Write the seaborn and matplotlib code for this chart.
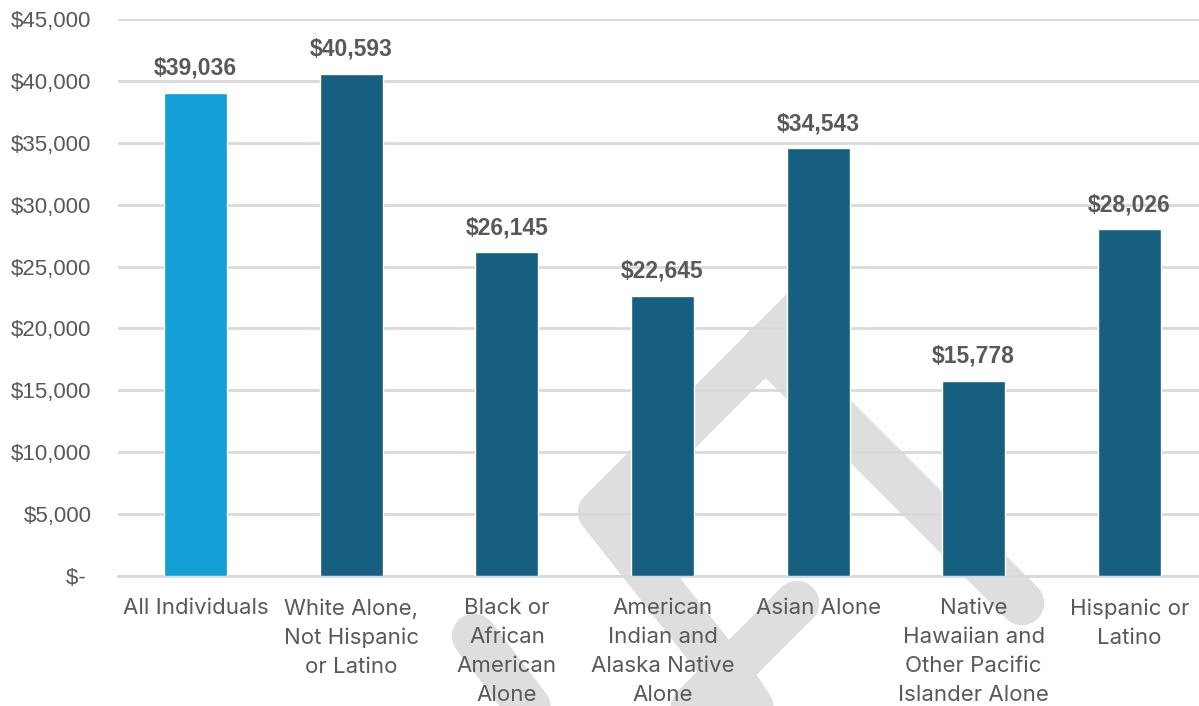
import matplotlib
matplotlib.use("Agg")
import matplotlib.pyplot as plt
from matplotlib.lines import Line2D
import seaborn as sns

# Median income by race / ethnicity
categories = [
    "All Individuals",
    "White Alone,\nNot Hispanic\nor Latino",
    "Black or\nAfrican\nAmerican\nAlone",
    "American\nIndian and\nAlaska Native\nAlone",
    "Asian Alone",
    "Native\nHawaiian and\nOther Pacific\nIslander Alone",
    "Hispanic or\nLatino",
]
incomes = [39036, 40593, 26145, 22645, 34543, 15778, 28026]
bar_colors = ["#119fd6", "#165f80", "#165f80", "#165f80", "#165f80", "#165f80", "#165f80"]
y_ticks = [0, 5000, 10000, 15000, 20000, 25000, 30000, 35000, 40000, 45000]

TEXT = "#595959"
GRID = "#d9d9d9"
W, H = 1199, 706

sns.set_theme(style="white")
plt.rcParams["font.family"] = ["Liberation Sans", "DejaVu Sans"]

fig = plt.figure(figsize=(W / 100, H / 100), dpi=100)
fig.patch.set_facecolor("white")
ax = fig.add_axes([118 / W, 1 - 576 / H, (1207 - 118) / W, (576 - 19) / H])
ax.patch.set_visible(False)


def fpx(x, y):
    return x / W, 1 - y / H


# Light grey logo mark sitting behind the plot
logo_paths = [
    [(812, 300), (600, 512), (740, 690), (770, 735)],
    [(765, 346), (1022, 603)],
    [(797, 603), (680, 720)],
    [(474, 636), (540, 722)],
]
for path in logo_paths:
    xs, ys = zip(*[fpx(x, y) for x, y in path])
    fig.add_artist(Line2D(xs, ys, transform=fig.transFigure, color="#dedede",
                          lw=32, solid_capstyle="round", solid_joinstyle="round",
                          zorder=-1))

df = {"category": categories, "income": incomes}
sns.barplot(x="category", y="income", hue="category", data=df,
            palette=bar_colors, width=0.405, saturation=1, legend=False,
            ax=ax, zorder=3)

ax.set_xlim(-0.5, 6.5)
ax.set_ylim(0, 45000)
ax.set_yticks(y_ticks)
ax.set_yticklabels(["$- " if v == 0 else f"${v:,}" for v in y_ticks])
ax.yaxis.grid(True, color=GRID, lw=2)
ax.set_axisbelow(True)
for side in ["top", "right", "left"]:
    ax.spines[side].set_visible(False)
ax.spines["bottom"].set_color(GRID)
ax.spines["bottom"].set_linewidth(2)
ax.set_xlabel("")
ax.set_ylabel("")

ax.tick_params(axis="y", length=0, pad=19, labelsize=16, labelcolor=TEXT)
ax.tick_params(axis="x", length=0, pad=16, labelsize=16, labelcolor=TEXT)
for lbl in ax.get_xticklabels():
    lbl.set_family(["Inter", "DejaVu Sans"])
    lbl.set_linespacing(1.56)

for i, v in enumerate(incomes):
    ax.annotate(f"${v:,}", (i, v), xytext=(0, 13), textcoords="offset points",
                ha="center", va="baseline", fontsize=16.5, fontweight="bold",
                color=TEXT)

fig.savefig("out.png", dpi=100, facecolor="white")
